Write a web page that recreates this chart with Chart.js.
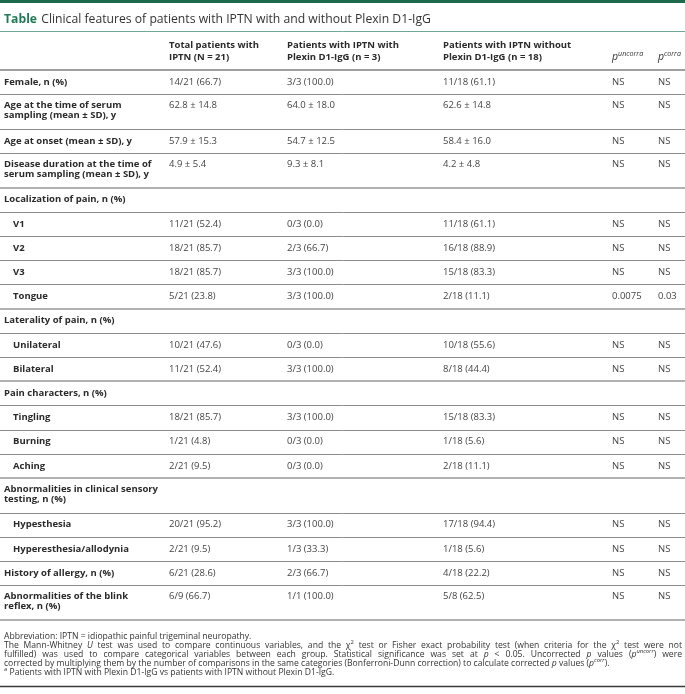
<!DOCTYPE html>
<html>
<head>
<meta charset="utf-8">
<script src="https://cdn.jsdelivr.net/npm/chart.js@4.4.0/dist/chart.umd.min.js"></script>
<style>
  html, body { margin: 0; padding: 0; background: #fff; }
</style>
</head>
<body>
<canvas id="table" width="685" height="694"></canvas>
<script>
// ---- table content ----
const tableTitle = "Clinical features of patients with IPTN with and without Plexin D1-IgG";

const columnHeaders = [
  "",
  "Total patients with\nIPTN (N = 21)",
  "Patients with IPTN with\nPlexin D1-IgG (n = 3)",
  "Patients with IPTN without\nPlexin D1-IgG (n = 18)",
  "p|uncorra",
  "p|corra"
];

const rowLabels = [
  "Female, n (%)",
  "Age at the time of serum\nsampling (mean \u00b1 SD), y",
  "Age at onset (mean \u00b1 SD), y",
  "Disease duration at the time of\nserum sampling (mean \u00b1 SD), y",
  "Localization of pain, n (%)",
  "V1",
  "V2",
  "V3",
  "Tongue",
  "Laterality of pain, n (%)",
  "Unilateral",
  "Bilateral",
  "Pain characters, n (%)",
  "Tingling",
  "Burning",
  "Aching",
  "Abnormalities in clinical sensory\ntesting, n (%)",
  "Hypesthesia",
  "Hyperesthesia/allodynia",
  "History of allergy, n (%)",
  "Abnormalities of the blink\nreflex, n (%)"
];

// 1 = sub item of the group above
const rowIsSub = [0, 0, 0, 0, 0, 1, 1, 1, 1, 0, 1, 1, 0, 1, 1, 1, 0, 1, 1, 0, 0];

const totalPatients = ["14/21 (66.7)", "62.8 \u00b1 14.8", "57.9 \u00b1 15.3", "4.9 \u00b1 5.4", "",
  "11/21 (52.4)", "18/21 (85.7)", "18/21 (85.7)", "5/21 (23.8)", "",
  "10/21 (47.6)", "11/21 (52.4)", "",
  "18/21 (85.7)", "1/21 (4.8)", "2/21 (9.5)", "",
  "20/21 (95.2)", "2/21 (9.5)", "6/21 (28.6)", "6/9 (66.7)"];

const withPlexin = ["3/3 (100.0)", "64.0 \u00b1 18.0", "54.7 \u00b1 12.5", "9.3 \u00b1 8.1", "",
  "0/3 (0.0)", "2/3 (66.7)", "3/3 (100.0)", "3/3 (100.0)", "",
  "0/3 (0.0)", "3/3 (100.0)", "",
  "3/3 (100.0)", "0/3 (0.0)", "0/3 (0.0)", "",
  "3/3 (100.0)", "1/3 (33.3)", "2/3 (66.7)", "1/1 (100.0)"];

const withoutPlexin = ["11/18 (61.1)", "62.6 \u00b1 14.8", "58.4 \u00b1 16.0", "4.2 \u00b1 4.8", "",
  "11/18 (61.1)", "16/18 (88.9)", "15/18 (83.3)", "2/18 (11.1)", "",
  "10/18 (55.6)", "8/18 (44.4)", "",
  "15/18 (83.3)", "1/18 (5.6)", "2/18 (11.1)", "",
  "17/18 (94.4)", "1/18 (5.6)", "4/18 (22.2)", "5/8 (62.5)"];

const pUncorrected = ["NS", "NS", "NS", "NS", "",
  "NS", "NS", "NS", "0.0075", "",
  "NS", "NS", "",
  "NS", "NS", "NS", "",
  "NS", "NS", "NS", "NS"];

const pCorrected = ["NS", "NS", "NS", "NS", "",
  "NS", "NS", "NS", "0.03", "",
  "NS", "NS", "",
  "NS", "NS", "NS", "",
  "NS", "NS", "NS", "NS"];

// footnotes as [text, style] runs; "j" marks lines set justified
const footnotes = [
  { j: false, runs: [["Abbreviation: IPTN = idiopathic painful trigeminal neuropathy.", "r"]] },
  { j: true, runs: [["The Mann-Whitney ", "r"], ["U", "i"], [" test was used to compare continuous variables, and the \u03c7", "r"], ["2", "sup"],
    [" test or Fisher exact probability test (when criteria for the \u03c7", "r"], ["2", "sup"], [" test were not", "r"]] },
  { j: true, runs: [["fulfilled) was used to compare categorical variables between each group. Statistical significance was set at ", "r"], ["p", "i"],
    [" < 0.05. Uncorrected ", "r"], ["p", "i"], [" values (", "r"], ["p", "i"], ["uncorr", "supi"], [") were", "r"]] },
  { j: false, runs: [["corrected by multiplying them by the number of comparisons in the same categories (Bonferroni-Dunn correction) to calculate corrected ", "r"],
    ["p", "i"], [" values (", "r"], ["p", "i"], ["corr", "supi"], [").", "r"]] },
  { j: false, runs: [["a", "sup"], [" Patients with IPTN with Plexin D1-IgG vs patients with IPTN without Plexin D1-IgG.", "r"]] }
];

// ---- layout ----
const W = 685, H = 694;
const colX = [4, 169, 287, 443, 612, 658];
const subIndent = 9;
const titleY = 19.5, titleRule = 30.5;
const headerBottom = 70;
const rowH = 24.2, lineGap = 10.4;
const footTop = 636.5, footGap = 9.1, bottomRule = 686;
const FONT = '"Open Sans", "DejaVu Sans", sans-serif';
const bodySize = 9.5, footSize = 8.6, titleSize = 12.2;

// row tops / text centres in canvas units
const rowTop = [], rowBottom = [];
let yCursor = headerBottom;
rowLabels.forEach((lab) => {
  const n = lab.split("\n").length;
  rowTop.push(yCursor);
  yCursor += rowH + lineGap * (n - 1);
  rowBottom.push(yCursor);
});
const rowTextY = rowTop.map((t, i) => t + rowH / 2 - (rowLabels[i].indexOf("\n") >= 0 ? 1 : 0));
const headerTextY = headerBottom - 24.5;

const valueColumns = [totalPatients, withPlexin, withoutPlexin, pUncorrected, pCorrected];

function cellDataset(texts, xs, ys, kind) {
  return {
    label: kind,
    kind: kind,
    texts: texts,
    data: texts.map((_, i) => ({ x: xs[i], y: ys[i] })),
    pointRadius: 0,
    showLine: false
  };
}

const datasets = [];
datasets.push(cellDataset(columnHeaders.slice(1), colX.slice(1), colX.slice(1).map(() => headerTextY), "header"));
datasets.push(cellDataset(rowLabels, rowLabels.map((_, i) => colX[0] + (rowIsSub[i] ? subIndent : 0)), rowTextY, "label"));
valueColumns.forEach((col, c) => {
  datasets.push(cellDataset(col, col.map(() => colX[c + 1]), rowTextY, "value"));
});

function fontFor(style, size) {
  if (style === "b") return "bold " + size + "px " + FONT;
  if (style === "i") return "italic " + size + "px " + FONT;
  if (style === "sup") return (size * 0.68).toFixed(2) + "px " + FONT;
  if (style === "supi") return "italic " + (size * 0.68).toFixed(2) + "px " + FONT;
  return size + "px " + FONT;
}

function drawRuns(ctx, runs, x, y, size, color, justifyTo) {
  ctx.fillStyle = color;
  ctx.textBaseline = "middle";
  ctx.textAlign = "left";
  let natural = 0, spaces = 0;
  runs.forEach(([t, s]) => {
    ctx.font = fontFor(s, size);
    natural += ctx.measureText(t).width;
    spaces += (t.match(/ /g) || []).length;
  });
  const extra = justifyTo && spaces ? (justifyTo - x - natural) / spaces : 0;
  let cx = x;
  runs.forEach(([t, s]) => {
    ctx.font = fontFor(s, size);
    const dy = (s === "sup" || s === "supi") ? -size * 0.38 : 0;
    const parts = t.split(" ");
    const sp = ctx.measureText(" ").width;
    parts.forEach((p, k) => {
      if (p) { ctx.fillText(p, cx, y + dy); cx += ctx.measureText(p).width; }
      if (k < parts.length - 1) cx += sp + extra;
    });
  });
}

const tablePlugin = {
  id: "tableDraw",
  beforeDatasetsDraw(chart) {
    const ctx = chart.ctx, ys = chart.scales.y, xs = chart.scales.x;
    const x0 = xs.getPixelForValue(0), x1 = xs.getPixelForValue(W);
    ctx.save();
    // top band
    ctx.fillStyle = "#1d6b4c";
    ctx.fillRect(x0, ys.getPixelForValue(0), x1 - x0, ys.getPixelForValue(3) - ys.getPixelForValue(0));
    // title
    const ty = ys.getPixelForValue(titleY);
    ctx.font = "bold " + titleSize + "px " + FONT;
    ctx.fillStyle = "#1f7a55";
    ctx.textBaseline = "middle";
    ctx.fillText("Table", xs.getPixelForValue(colX[0]), ty);
    const tw = ctx.measureText("Table ").width;
    ctx.font = titleSize + "px " + FONT;
    ctx.fillStyle = "#333";
    ctx.fillText(tableTitle, xs.getPixelForValue(colX[0]) + tw + 1, ty);

    function rule(v, color, w) {
      const py = Math.round(ys.getPixelForValue(v)) + (w % 2 ? 0.5 : 0);
      ctx.strokeStyle = color;
      ctx.lineWidth = w;
      ctx.beginPath();
      ctx.moveTo(x0, py);
      ctx.lineTo(x1, py);
      ctx.stroke();
    }
    rule(titleRule, "#6fa996", 1);
    rule(headerBottom, "#a0a0a0", 2);
    rowBottom.forEach((b, i) => {
      const last = i === rowBottom.length - 1;
      const nextIsGroup = !last && totalPatients[i + 1] === "";
      if (last || nextIsGroup) rule(b, "#b0b0b0", 2);
      else rule(b, "#8c8c8c", 1);
    });
    rule(bottomRule, "#3a3a3a", 1.5);

    // footnotes
    footnotes.forEach((f, i) => {
      drawRuns(ctx, f.runs, xs.getPixelForValue(colX[0]), ys.getPixelForValue(footTop + i * footGap),
        footSize, "#333", f.j ? xs.getPixelForValue(682) : 0);
    });
    ctx.restore();
  },
  afterDatasetsDraw(chart) {
    const ctx = chart.ctx;
    ctx.save();
    ctx.textBaseline = "middle";
    ctx.textAlign = "left";
    chart.data.datasets.forEach((ds, di) => {
      const meta = chart.getDatasetMeta(di);
      meta.data.forEach((el, j) => {
        const txt = ds.texts[j];
        if (!txt) return;
        if (ds.kind === "header" && txt.indexOf("|") >= 0) {
          const [base, sup] = txt.split("|");
          drawRuns(ctx, [[base, "i"], [sup, "supi"]], el.x, el.y + 12, bodySize + 1, "#333", 0);
          return;
        }
        const bold = ds.kind !== "value";
        const gap = ds.kind === "header" ? 12 : lineGap;
        ctx.font = (bold ? "bold " : "") + bodySize + "px " + FONT;
        ctx.fillStyle = bold ? "#2a2a2a" : "#444";
        txt.split("\n").forEach((line, k) => ctx.fillText(line, el.x, el.y + k * gap));
      });
    });
    ctx.restore();
  }
};

new Chart(document.getElementById("table"), {
  type: "scatter",
  data: { datasets: datasets },
  options: {
    responsive: false,
    devicePixelRatio: 1,
    animation: false,
    events: [],
    layout: { padding: 0 },
    plugins: { legend: { display: false }, tooltip: { enabled: false }, title: { display: false } },
    scales: {
      x: { type: "linear", min: 0, max: W, display: false },
      y: { type: "linear", min: 0, max: H, reverse: true, display: false }
    }
  },
  plugins: [tablePlugin]
});
</script>
</body>
</html>
